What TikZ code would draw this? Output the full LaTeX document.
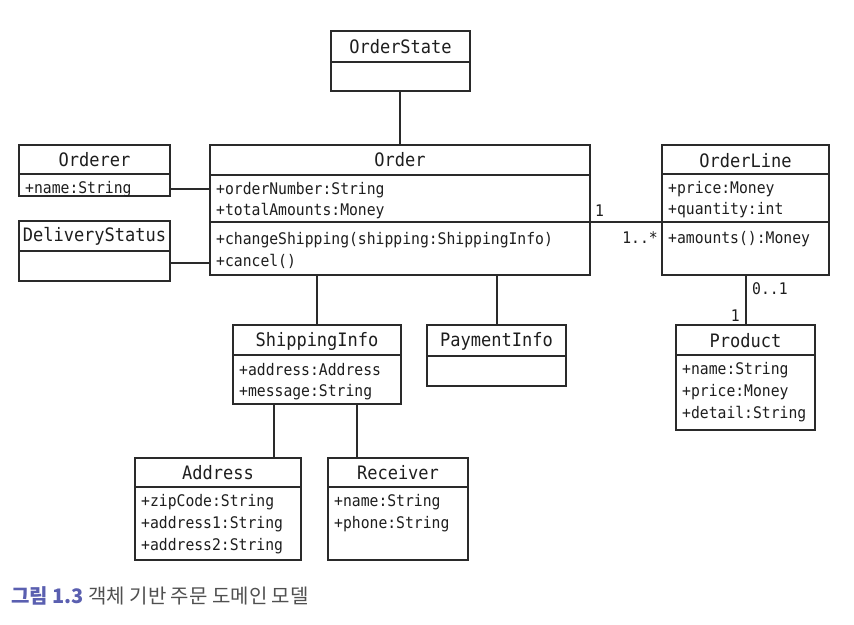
\documentclass[tikz,border=0pt]{standalone}
\usepackage{fontspec}
\setmonofont{DejaVu Sans Mono}[FakeStretch=0.92]
\newfontfamily\krfont{Noto Sans CJK KR}
\definecolor{linec}{HTML}{2A2A2A}
\definecolor{txtc}{HTML}{1E1E1E}
\definecolor{capblue}{HTML}{5A5FB0}
\definecolor{capgray}{HTML}{505050}
\begin{document}
\begin{tikzpicture}[x=1pt,y=-1pt,
  box/.style={draw=linec, line width=1.8pt, inner sep=0pt, outer sep=0pt, fill=none},
  ttl/.style={font=\ttfamily\fontsize{18.5}{20}\selectfont, text=txtc, inner sep=0pt},
  attr/.style={font=\ttfamily\fontsize{16}{18}\selectfont, text=txtc, inner sep=0pt, anchor=west},
  lbl/.style={font=\ttfamily\fontsize{16}{18}\selectfont, text=txtc, inner sep=0pt},
  conn/.style={draw=linec, line width=1.8pt},
  divl/.style={draw=linec, line width=1.8pt}]
\useasboundingbox (0,0) rectangle (854,624);
\fill[white] (0,0) rectangle (854,624);

% OrderState
\node[box, minimum width=139pt, minimum height=60pt] (os) at (400.5,61) {};
\draw[divl] (os.west |- 0,62) -- (os.east |- 0,62);
\node[ttl] (ost) at (400.5,47) {OrderState};

% Order
\node[box, minimum width=380pt, minimum height=130pt] (ord) at (400,210) {};
\draw[divl] (ord.west |- 0,175) -- (ord.east |- 0,175);
\draw[divl] (ord.west |- 0,222) -- (ord.east |- 0,222);
\node[ttl] (ordt) at (400,160) {Order};
\node[attr] (ord1) at (216,190) {+orderNumber:String};
\node[attr] (ord2) at (216,211) {+totalAmounts:Money};
\node[attr] (ord3) at (216,240) {+changeShipping(shipping:ShippingInfo)};
\node[attr] (ord4) at (216,261) {+cancel()};

% Orderer
\node[box, minimum width=151pt, minimum height=51pt] (orr) at (94.5,170.5) {};
\draw[divl] (orr.west |- 0,174) -- (orr.east |- 0,174);
\node[ttl] (orrt) at (94.5,160) {Orderer};
\node[attr] (orr1) at (25,189) {+name:String};

% DeliveryStatus
\node[box, minimum width=151pt, minimum height=60pt] (ds) at (94.5,251) {};
\draw[divl] (ds.west |- 0,251) -- (ds.east |- 0,251);
\node[ttl] (dst) at (94.5,236) {DeliveryStatus};

% OrderLine
\node[box, minimum width=167pt, minimum height=130pt] (ol) at (745.5,210) {};
\draw[divl] (ol.west |- 0,174) -- (ol.east |- 0,174);
\node[ttl] (olt) at (745.5,160.5) {OrderLine};
\node[attr] (ol1) at (668,189) {+price:Money};
\node[attr] (ol2) at (668,210) {+quantity:int};
\draw[divl] (ol.west |- 0,222) -- (ol.east |- 0,222);
\node[attr] (ol3) at (668,239) {+amounts():Money};

% Product
\node[box, minimum width=139pt, minimum height=105pt] (pr) at (745.5,377.5) {};
\draw[divl] (pr.west |- 0,355) -- (pr.east |- 0,355);
\node[ttl] (prt) at (745.5,341) {Product};
\node[attr] (pr1) at (682,370) {+name:String};
\node[attr] (pr2) at (682,392) {+price:Money};
\node[attr] (pr3) at (682,414) {+detail:String};

% ShippingInfo
\node[box, minimum width=168pt, minimum height=79pt] (si) at (317,364.5) {};
\draw[divl] (si.west |- 0,355) -- (si.east |- 0,355);
\node[ttl] (sit) at (317,341) {ShippingInfo};
\node[attr] (si1) at (239,370) {+address:Address};
\node[attr] (si2) at (239,392) {+message:String};

% PaymentInfo
\node[box, minimum width=139pt, minimum height=61pt] (pi) at (496.5,355.5) {};
\draw[divl] (pi.west |- 0,356) -- (pi.east |- 0,356);
\node[ttl] (pit) at (496.5,341) {PaymentInfo};

% Address
\node[box, minimum width=166pt, minimum height=102pt] (ad) at (218,509) {};
\draw[divl] (ad.west |- 0,487) -- (ad.east |- 0,487);
\node[ttl] (adt) at (218,473) {Address};
\node[attr] (ad1) at (141,502.5) {+zipCode:String};
\node[attr] (ad2) at (141,524) {+address1:String};
\node[attr] (ad3) at (141,546) {+address2:String};

% Receiver
\node[box, minimum width=140pt, minimum height=102pt] (rc) at (398,509) {};
\draw[divl] (rc.west |- 0,487) -- (rc.east |- 0,487);
\node[ttl] (rct) at (398,473) {Receiver};
\node[attr] (rc1) at (334,502.5) {+name:String};
\node[attr] (rc2) at (334,524) {+phone:String};

% connectors
\draw[conn] (os.south -| 400,0) -- (ord.north -| 400,0);
\draw[conn] (orr.east |- 0,189) -- (ord.west |- 0,189);
\draw[conn] (ds.east |- 0,263) -- (ord.west |- 0,263);
\draw[conn] (ord.east |- 0,222) -- (ol.west |- 0,222);
\draw[conn] (ol.south -| 746,0) -- (pr.north -| 746,0);
\draw[conn] (ord.south -| 317,0) -- (si.north -| 317,0);
\draw[conn] (ord.south -| 497,0) -- (pi.north -| 497,0);
\draw[conn] (si.south -| 274,0) -- (ad.north -| 274,0);
\draw[conn] (si.south -| 357,0) -- (rc.north -| 357,0);

% multiplicities
\node[lbl, anchor=west] (m1) at (595,211) {1};
\node[lbl, anchor=east] (m2) at (658,238) {1..*};
\node[lbl, anchor=west] (m3) at (752,289) {0..1};
\node[lbl, anchor=east] (m4) at (740,316) {1};

% caption
\node[anchor=west, inner sep=0pt, font=\krfont\fontsize{20}{22}\selectfont] (cap) at (11,596)
  {{\color{capblue}\bfseries 그림 1.3} {\color{capgray}객체 기반 주문 도메인 모델}};
\end{tikzpicture}
\end{document}
